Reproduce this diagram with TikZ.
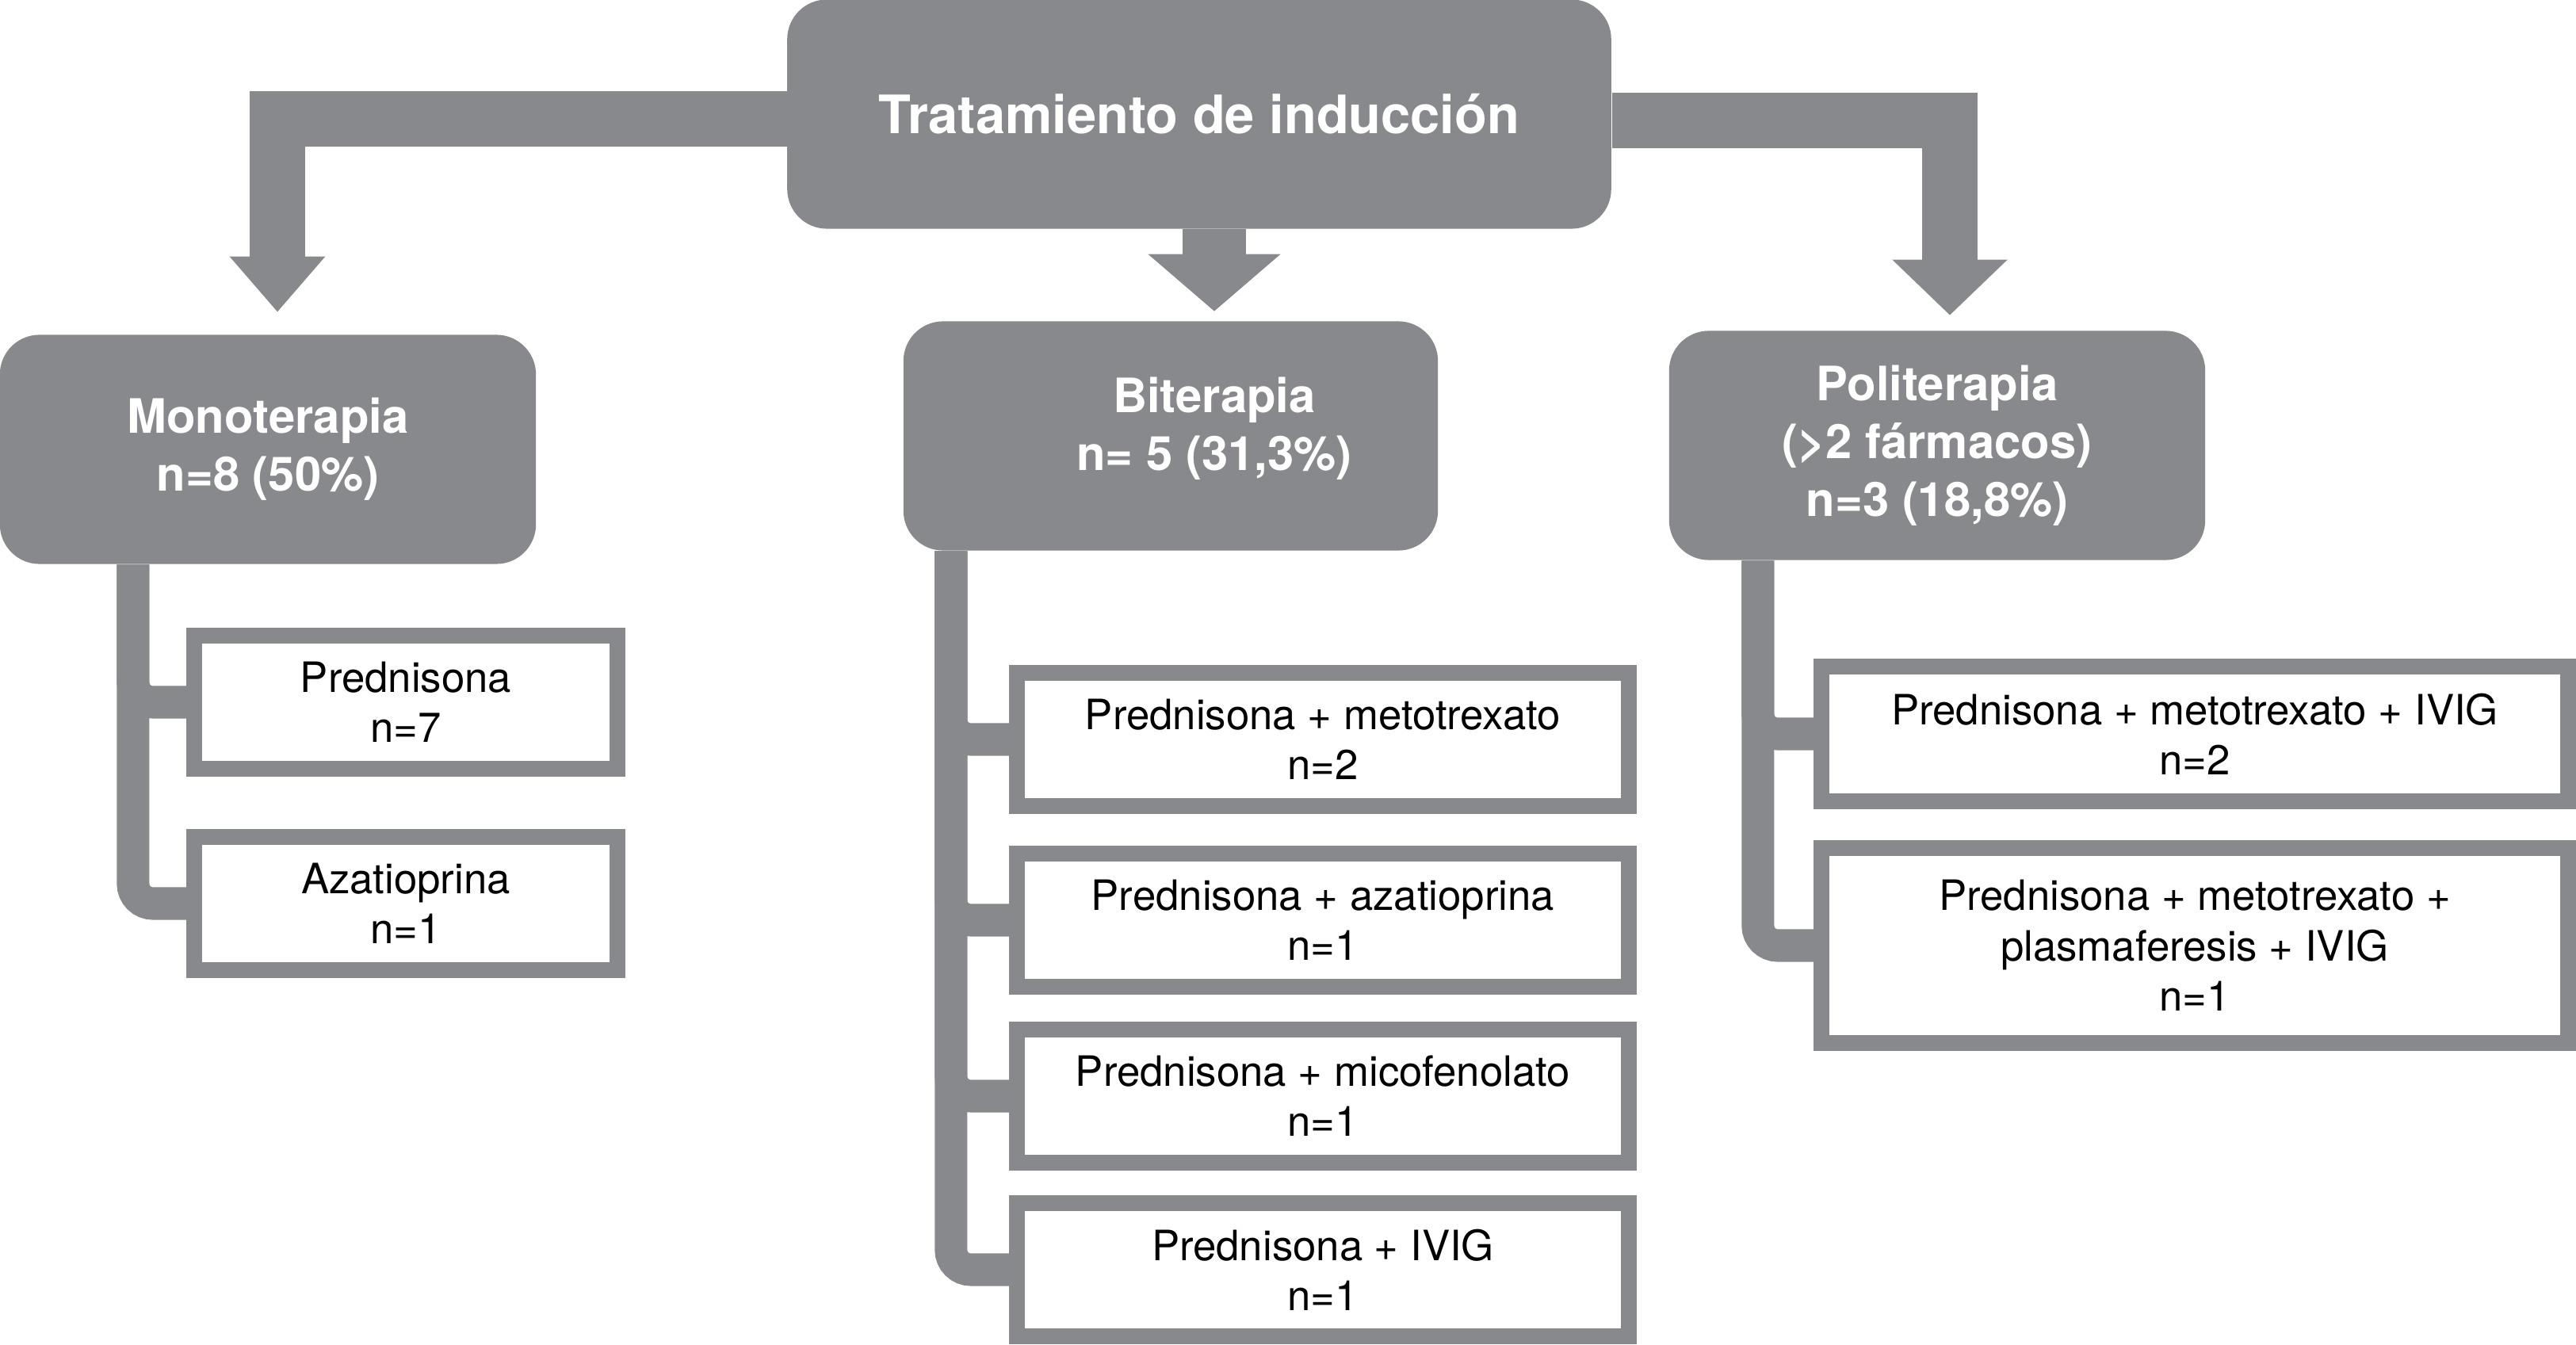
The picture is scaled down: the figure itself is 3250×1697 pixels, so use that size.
\documentclass[tikz,border=0pt]{standalone}
\usepackage{fontspec}
\setmainfont{TeX Gyre Heros}
\usetikzlibrary{arrows.meta}
\definecolor{boxgray}{RGB}{136,137,141}
\tikzset{
  headbox/.style={fill=boxgray, rounded corners=0.5cm, minimum width=6.76cm, minimum height=2.89cm,
    text=white, font=\fontsize{17}{20.8}\selectfont\bfseries, align=center},
  headtext/.style={text=white, font=\fontsize{17}{20.8}\selectfont\bfseries, align=center},
  drugbox/.style={draw=boxgray, line width=0.2cm, fill=white, minimum height=1.68cm,
    font=\fontsize{15}{18}\selectfont, align=center, inner sep=0pt},
  bigarrow/.style={boxgray, line width=0.7cm, -{Triangle[width=1.16cm, length=0.7cm]}},
  trunk/.style={boxgray, line width=0.41cm, rounded corners=0.25cm},
}
\begin{document}
\begin{tikzpicture}[x=0.01cm, y=-0.01cm]
\useasboundingbox (0,0) rectangle (3250,1697);
\node [headbox, minimum width=10.39cm, font=\fontsize{19}{23}\selectfont\bfseries] (top) at (1513,144) {Tratamiento de inducción};
\node [headbox] (mono) at (338,567) {Monoterapia\\n=8 (50\%)};
\node [headbox, minimum width=6.74cm] (bit) at (1477,550) {};
\node [headtext] (bittext) at (1532,541) {Biterapia\\n= 5 (31,3\%)};
\node [headbox] (poli) at (2444,562) {Politerapia\\(>2 fármacos)\\n=3 (18,8\%)};

\draw [bigarrow, shorten >=0.28cm] ([yshift=-0.06cm]top.west) -| ([xshift=0.12cm]mono.north);
\draw [bigarrow, line width=0.8cm, -{Triangle[width=1.63cm, length=0.72cm]}, shorten >=0.12cm] (top.south -| bittext) -- (bit.north -| bittext);
\draw [bigarrow, -{Triangle[width=1.41cm, length=0.7cm]}, shorten >=0.19cm] ([yshift=-0.08cm]top.east) -| ([xshift=0.16cm]poli.north);

\node [drugbox, minimum width=5.34cm] (pred) at (512,886) {Prednisona\\n=7};
\node [drugbox, minimum width=5.34cm] (aza) at (512,1140) {Azatioprina\\n=1};

\node [drugbox, minimum width=7.72cm] (pmtx) at (1669,933) {Prednisona + metotrexato\\n=2};
\node [drugbox, minimum width=7.72cm] (paza) at (1669,1161) {Prednisona + azatioprina\\n=1};
\node [drugbox, minimum width=7.72cm] (pmic) at (1669,1383) {Prednisona + micofenolato\\n=1};
\node [drugbox, minimum width=7.72cm] (pivig) at (1669,1602) {Prednisona + IVIG\\n=1};

\node [drugbox, minimum width=9.41cm, minimum height=1.70cm] (pmi) at (2769,926) {Prednisona + metotrexato + IVIG\\n=2};
\node [drugbox, minimum width=9.41cm, minimum height=2.45cm] (pmpi) at (2769,1193) {Prednisona + metotrexato +\\plasmaferesis + IVIG\\n=1};

\draw [trunk] ([xshift=-1.7cm]mono.south) |- (pred.west);
\draw [trunk] ([xshift=-1.7cm]mono.south) |- (aza.west);
\draw [trunk] ([xshift=-2.77cm]bit.south) |- (pmtx.west);
\draw [trunk] ([xshift=-2.77cm]bit.south) |- (paza.west);
\draw [trunk] ([xshift=-2.77cm]bit.south) |- (pmic.west);
\draw [trunk] ([xshift=-2.77cm]bit.south) |- (pivig.west);
\draw [trunk] ([xshift=-2.26cm]poli.south) |- (pmi.west);
\draw [trunk] ([xshift=-2.26cm]poli.south) |- (pmpi.west);
\end{tikzpicture}
\end{document}
